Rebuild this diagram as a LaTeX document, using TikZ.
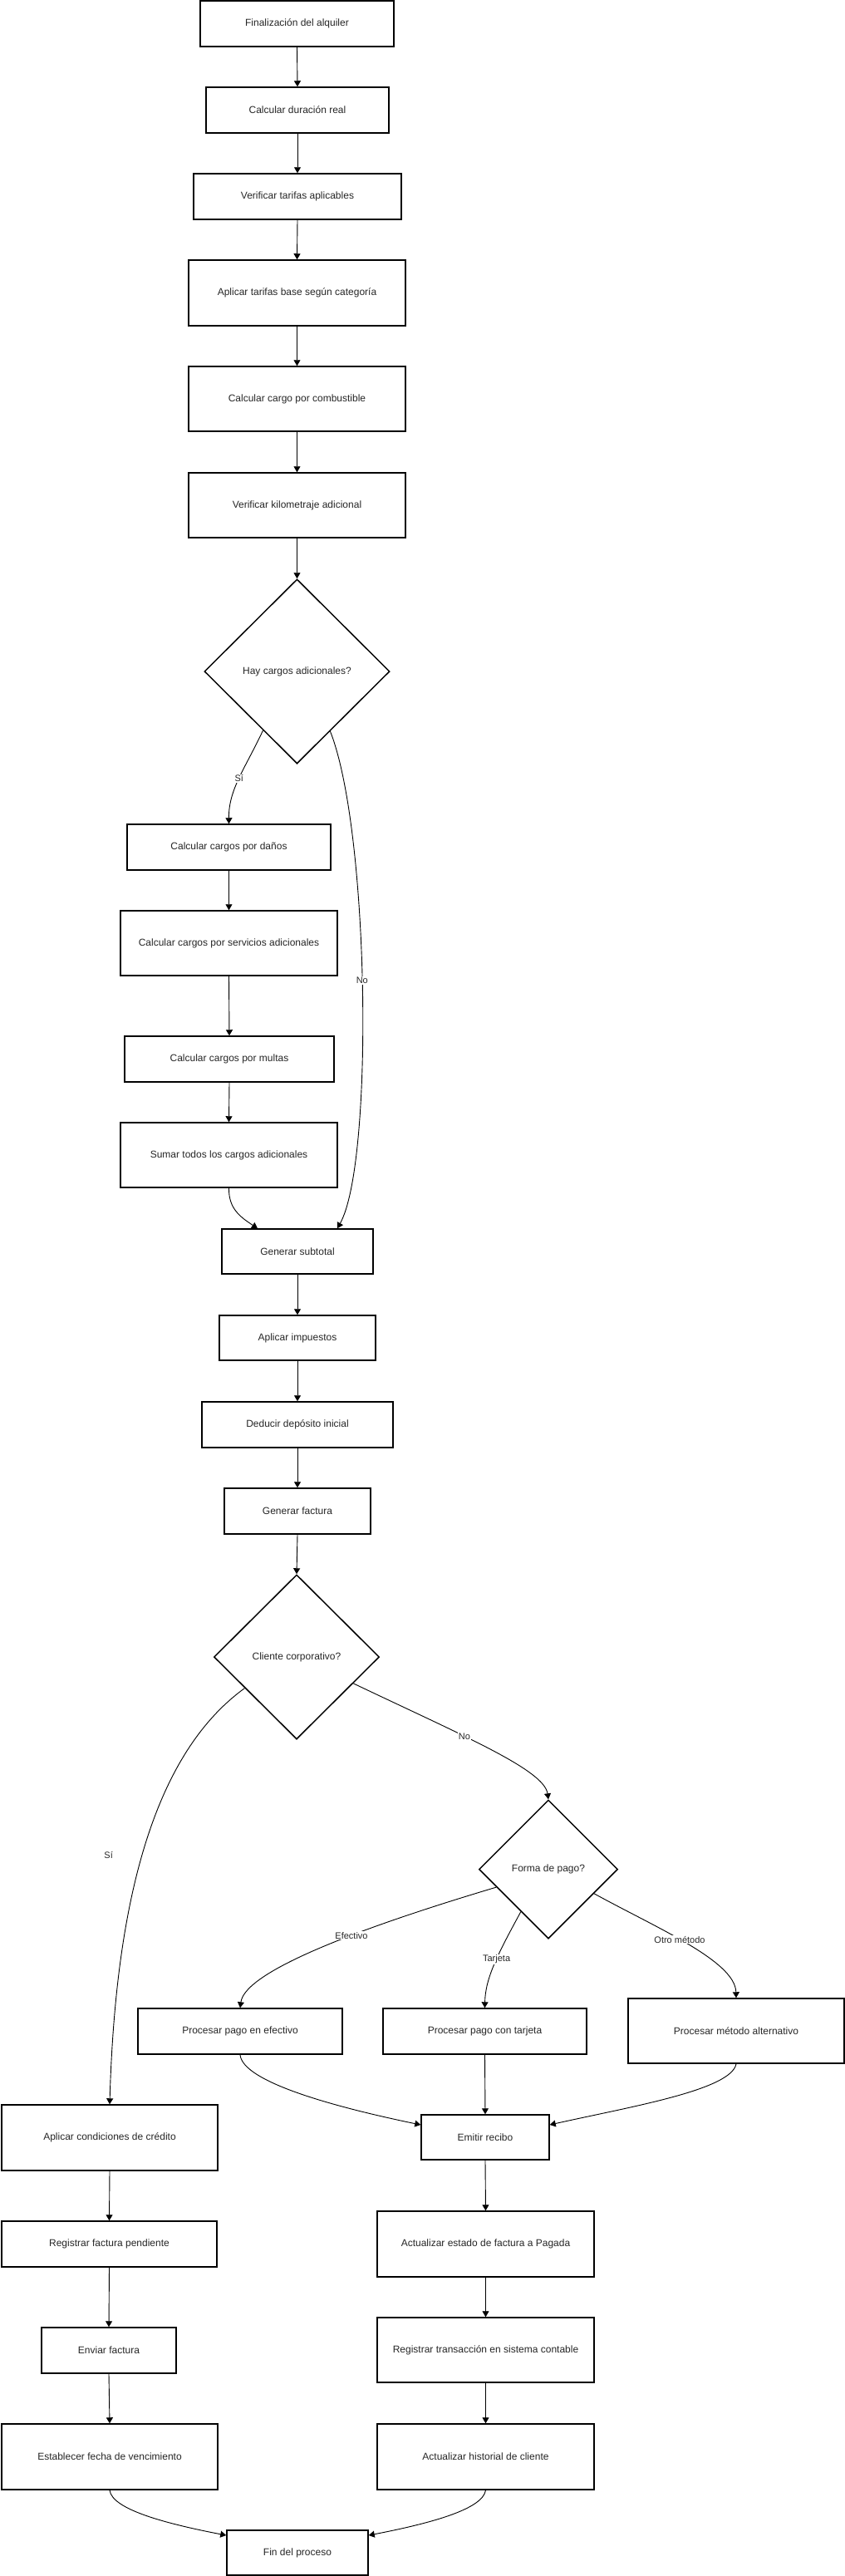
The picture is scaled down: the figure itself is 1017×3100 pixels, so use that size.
\documentclass[tikz,border=0pt]{standalone}
\usepackage{fontspec}
\setmainfont{Liberation Sans}
\usetikzlibrary{arrows.meta,shapes.geometric}
\tikzset{
  paso/.style={draw, line width=1.5pt, inner sep=0pt, minimum height=55pt, text=black!85, font=\fontsize{12}{14}\selectfont},
  decision/.style={draw, diamond, aspect=1, line width=1.5pt, inner sep=0pt, text=black!85, font=\fontsize{12}{14}\selectfont},
  flecha/.style={-{Triangle[length=7pt,width=8pt]}, line width=0.9pt},
  etiq/.style={fill=white, inner sep=1pt, text=black!85, font=\fontsize{11}{13}\selectfont}
}
\begin{document}
\begin{tikzpicture}[x=1pt,y=-1pt]
\useasboundingbox (0,0) rectangle (1017,3100);
\node[paso, minimum width=233pt] (alquiler) at (357.5,28.5) {Finalización del alquiler};
\node[paso, minimum width=220pt] (duracion) at (358,132.5) {Calcular duración real};
\node[paso, minimum width=250pt] (tarifas) at (358,236.5) {Verificar tarifas aplicables};
\node[paso, minimum width=261pt, minimum height=79pt] (base) at (357.5,352.5) {Aplicar tarifas base según categoría};
\node[paso, minimum width=261pt, minimum height=78pt] (combustible) at (357.5,480) {Calcular cargo por combustible};
\node[paso, minimum width=261pt, minimum height=78pt] (kilometraje) at (357.5,608) {Verificar kilometraje adicional};
\node[decision, minimum width=223pt, minimum height=222pt] (cargos) at (357.5,808) {Hay cargos adicionales?};
\node[paso, minimum width=245pt] (danos) at (275.5,1019.5) {Calcular cargos por daños};
\node[paso, minimum width=261pt, minimum height=78pt] (servicios) at (275.5,1135) {Calcular cargos por servicios adicionales};
\node[paso, minimum width=252pt] (multas) at (276,1274.5) {Calcular cargos por multas};
\node[paso, minimum width=261pt, minimum height=78pt] (sumar) at (275.5,1390) {Sumar todos los cargos adicionales};
\node[paso, minimum width=182pt, minimum height=54pt] (subtotal) at (358,1506) {Generar subtotal};
\node[paso, minimum width=188pt, minimum height=54pt] (impuestos) at (358,1610) {Aplicar impuestos};
\node[paso, minimum width=230pt] (deposito) at (358,1714.5) {Deducir depósito inicial};
\node[paso, minimum width=176pt] (factura) at (358,1818.5) {Generar factura};
\node[decision, minimum width=199pt, minimum height=198pt] (corporativo) at (357,1994) {Cliente corporativo?};
\node[decision, minimum width=167pt, minimum height=167pt] (forma) at (660,2249.5) {Forma de pago?};
\node[paso, minimum width=246pt] (efectivo) at (289,2444.5) {Procesar pago en efectivo};
\node[paso, minimum width=245pt] (tarjeta) at (583.5,2444.5) {Procesar pago con tarjeta};
\node[paso, minimum width=260pt, minimum height=78pt] (alternativo) at (886,2444) {Procesar método alternativo};
\node[paso, minimum width=154pt, minimum height=54pt] (recibo) at (584,2572) {Emitir recibo};
\node[paso, minimum width=261pt, minimum height=79pt] (estado) at (584.5,2700.5) {Actualizar estado de factura a Pagada};
\node[paso, minimum width=261pt, minimum height=78pt] (contable) at (584.5,2828) {Registrar transacción en sistema contable};
\node[paso, minimum width=261pt, minimum height=79pt] (historial) at (584.5,2956.5) {Actualizar historial de cliente};
\node[paso, minimum width=260pt, minimum height=79pt] (credito) at (132,2572.5) {Aplicar condiciones de crédito};
\node[paso, minimum width=259pt] (pendiente) at (131.5,2700.5) {Registrar factura pendiente};
\node[paso, minimum width=162pt] (enviar) at (131,2828.5) {Enviar factura};
\node[paso, minimum width=260pt, minimum height=79pt] (vencimiento) at (132,2956.5) {Establecer fecha de vencimiento};
\node[paso, minimum width=170pt, minimum height=54pt] (fin) at (358,3072) {Fin del proceso};
\draw[flecha] (alquiler.south) -- (duracion.north);
\draw[flecha] (duracion.south) -- (tarifas.north);
\draw[flecha] (tarifas.south) -- (base.north);
\draw[flecha] (base.south) -- (combustible.north);
\draw[flecha] (combustible.south) -- (kilometraje.north);
\draw[flecha] (kilometraje.south) -- (cargos.north);
\draw[flecha] (cargos.240) .. controls (295,925) and (275,950) .. (danos.north) node[etiq, pos=0.5] {Sí};
\draw[flecha] (cargos.299) .. controls (445,1000) and (450,1400) .. ([xshift=48pt]subtotal.north) node[etiq, pos=0.48] {No};
\draw[flecha] (danos.south) -- (servicios.north);
\draw[flecha] (servicios.south) -- (multas.north);
\draw[flecha] (multas.south) -- (sumar.north);
\draw[flecha] (sumar.south) .. controls (275,1455) and (290,1465) .. ([xshift=-48pt]subtotal.north);
\draw[flecha] (subtotal.south) -- (impuestos.north);
\draw[flecha] (impuestos.south) -- (deposito.north);
\draw[flecha] (deposito.south) -- (factura.north);
\draw[flecha] (factura.south) -- (corporativo.north);
\draw[flecha] (corporativo.335) .. controls (560,2090) and (655,2130) .. (forma.north) node[etiq, pos=0.38] {No};
\draw[flecha] (corporativo.211) .. controls (200,2100) and (140,2250) .. (credito.north) node[etiq, fill=none, pos=0.56, left=34pt] {Sí};
\draw[flecha] (forma.199) .. controls (450,2315) and (295,2370) .. (efectivo.north) node[etiq, pos=0.41] {Efectivo};
\draw[flecha] (forma.237) .. controls (600,2350) and (584,2380) .. (tarjeta.north) node[etiq, pos=0.45] {Tarjeta};
\draw[flecha] (forma.332) .. controls (790,2320) and (885,2360) .. (alternativo.north) node[etiq, pos=0.45] {Otro método};
\draw[flecha] (efectivo.south) .. controls (292,2505) and (400,2535) .. ([yshift=15pt]recibo.west);
\draw[flecha] (tarjeta.south) -- (recibo.north);
\draw[flecha] (alternativo.south) .. controls (880,2515) and (760,2535) .. ([yshift=15pt]recibo.east);
\draw[flecha] (recibo.south) -- (estado.north);
\draw[flecha] (estado.south) -- (contable.north);
\draw[flecha] (contable.south) -- (historial.north);
\draw[flecha] (credito.south) -- (pendiente.north);
\draw[flecha] (pendiente.south) -- (enviar.north);
\draw[flecha] (enviar.south) -- (vencimiento.north);
\draw[flecha] (vencimiento.south) .. controls (135,3020) and (200,3037) .. ([yshift=21pt]fin.west);
\draw[flecha] (historial.south) .. controls (581,3020) and (516,3037) .. ([yshift=21pt]fin.east);
\end{tikzpicture}
\end{document}
